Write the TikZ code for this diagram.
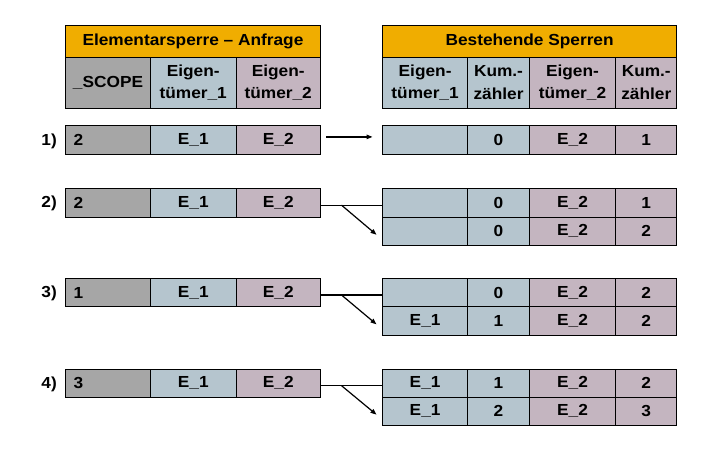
\documentclass[tikz,border=0pt]{standalone}
\usepackage{fontspec}
\setmainfont{Liberation Sans}[FakeStretch=1.08]
\usetikzlibrary{arrows.meta}
\definecolor{hdr}{RGB}{240,173,0}
\definecolor{scope}{RGB}{166,166,166}
\definecolor{ownA}{RGB}{181,197,206}
\definecolor{ownB}{RGB}{196,181,192}
\newcommand\mycell[7]{\node[#6, minimum width={(#4-#2)*1pt}, minimum height={(#5-#3)*1pt}] (#1) at (#2,#3) {#7};}
\begin{document}
\begin{tikzpicture}[x=1pt,y=-1pt,
  font=\fontsize{16}{22.5}\selectfont\bfseries,
  cell/.style={draw=black, line width=1pt, inner sep=0pt, outer sep=0pt, anchor=north west, align=center},
  hd/.style={cell, fill=hdr},
  sc/.style={cell, fill=scope},
  scn/.style={cell, fill=scope, text width=69pt, inner xsep=8pt, align=left},
  oa/.style={cell, fill=ownA},
  ob/.style={cell, fill=ownB},
  lab/.style={anchor=east, inner sep=0pt},
  conn/.style={line width=1.2pt},
  arr/.style={conn, -{Triangle[length=6pt,width=4.5pt]}}]
\useasboundingbox (0,0) rectangle (720,455);
% left header
\mycell{lh}{65.5}{25.7}{320.5}{57.3}{hd}{\raisebox{-3pt}{Elementarsperre \textendash{} Anfrage}}
\mycell{lsa}{65.5}{57.3}{150.5}{108.3}{sc}{\_SCOPE}
\mycell{lsb}{150.5}{57.3}{236}{108.3}{oa}{Eigen-\\tümer\_1}
\mycell{lsc}{236}{57.3}{320.5}{108.3}{ob}{Eigen-\\tümer\_2}
% right header
\mycell{rh}{382.5}{25.7}{676.8}{57.3}{hd}{\raisebox{-3pt}{Bestehende Sperren}}
\mycell{rsd}{382.5}{57.3}{467.7}{108.3}{oa}{Eigen-\\tümer\_1}
\mycell{rse}{467.7}{57.3}{529.3}{108.3}{oa}{Kum.-\\zähler}
\mycell{rsf}{529.3}{57.3}{615.7}{108.3}{ob}{Eigen-\\tümer\_2}
\mycell{rsg}{615.7}{57.3}{676.8}{108.3}{ob}{Kum.-\\zähler}
% row 1
\mycell{l1a}{65.5}{125.8}{150.5}{154}{scn}{2}
\mycell{l1b}{150.5}{125.8}{236}{154}{oa}{E\_1}
\mycell{l1c}{236}{125.8}{320.5}{154}{ob}{E\_2}
\mycell{r1d}{382.5}{125.8}{467.7}{154}{oa}{}
\mycell{r1e}{467.7}{125.8}{529.3}{154}{oa}{0}
\mycell{r1f}{529.3}{125.8}{615.7}{154}{ob}{E\_2}
\mycell{r1g}{615.7}{125.8}{676.8}{154}{ob}{1}
% row 2
\mycell{l2a}{65.5}{188.3}{150.5}{217}{scn}{2}
\mycell{l2b}{150.5}{188.3}{236}{217}{oa}{E\_1}
\mycell{l2c}{236}{188.3}{320.5}{217}{ob}{E\_2}
\mycell{r2ad}{382.5}{188.3}{467.7}{217}{oa}{}
\mycell{r2ae}{467.7}{188.3}{529.3}{217}{oa}{0}
\mycell{r2af}{529.3}{188.3}{615.7}{217}{ob}{E\_2}
\mycell{r2ag}{615.7}{188.3}{676.8}{217}{ob}{1}
\mycell{r2bd}{382.5}{217}{467.7}{245.5}{oa}{}
\mycell{r2be}{467.7}{217}{529.3}{245.5}{oa}{0}
\mycell{r2bf}{529.3}{217}{615.7}{245.5}{ob}{E\_2}
\mycell{r2bg}{615.7}{217}{676.8}{245.5}{ob}{2}
% row 3
\mycell{l3a}{65.5}{278.3}{150.5}{306.7}{scn}{1}
\mycell{l3b}{150.5}{278.3}{236}{306.7}{oa}{E\_1}
\mycell{l3c}{236}{278.3}{320.5}{306.7}{ob}{E\_2}
\mycell{r3ad}{382.5}{278.3}{467.7}{306.7}{oa}{}
\mycell{r3ae}{467.7}{278.3}{529.3}{306.7}{oa}{0}
\mycell{r3af}{529.3}{278.3}{615.7}{306.7}{ob}{E\_2}
\mycell{r3ag}{615.7}{278.3}{676.8}{306.7}{ob}{2}
\mycell{r3bd}{382.5}{306.7}{467.7}{335}{oa}{E\_1}
\mycell{r3be}{467.7}{306.7}{529.3}{335}{oa}{1}
\mycell{r3bf}{529.3}{306.7}{615.7}{335}{ob}{E\_2}
\mycell{r3bg}{615.7}{306.7}{676.8}{335}{ob}{2}
% row 4
\mycell{l4a}{65.5}{369}{150.5}{397.3}{scn}{3}
\mycell{l4b}{150.5}{369}{236}{397.3}{oa}{E\_1}
\mycell{l4c}{236}{369}{320.5}{397.3}{ob}{E\_2}
\mycell{r4ad}{382.5}{369}{467.7}{397.3}{oa}{E\_1}
\mycell{r4ae}{467.7}{369}{529.3}{397.3}{oa}{1}
\mycell{r4af}{529.3}{369}{615.7}{397.3}{ob}{E\_2}
\mycell{r4ag}{615.7}{369}{676.8}{397.3}{ob}{2}
\mycell{r4bd}{382.5}{397.3}{467.7}{425}{oa}{E\_1}
\mycell{r4be}{467.7}{397.3}{529.3}{425}{oa}{2}
\mycell{r4bf}{529.3}{397.3}{615.7}{425}{ob}{E\_2}
\mycell{r4bg}{615.7}{397.3}{676.8}{425}{ob}{3}
% labels
\node[lab] (n1) at (57,141) {1)};
\node[lab] (n2) at (57,203) {2)};
\node[lab] (n3) at (57,293) {3)};
\node[lab] (n4) at (57,384) {4)};
% connectors
\draw[arr] ([xshift=5.5pt,yshift=3pt]l1c.east) -- ([xshift=-10pt,yshift=3pt]r1d.west);
\foreach \r in {2,3,4}{
  \draw[conn] ([yshift=-2.5pt]l\r c.east) -- ([yshift=-2.5pt]r\r ad.west);
  \coordinate (s\r) at ([xshift=21pt,yshift=-2.5pt]l\r c.east);
  \draw[arr] (s\r) -- ([xshift=-6pt,yshift=-3.5pt]r\r bd.west);
}
\end{tikzpicture}
\end{document}
